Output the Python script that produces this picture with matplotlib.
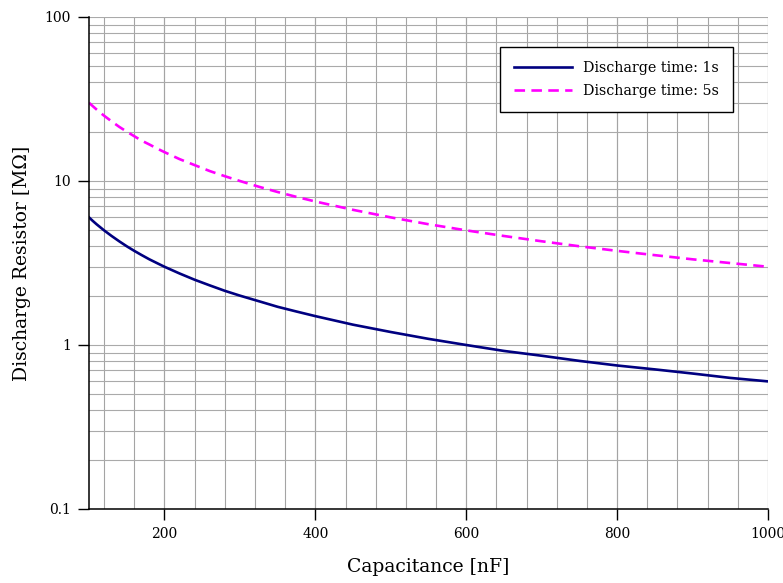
import matplotlib
matplotlib.use("Agg")
import matplotlib.pyplot as plt
from matplotlib.ticker import FixedLocator, NullFormatter

plt.rcParams['font.family'] = ['DejaVu Serif']

# capacitance [nF] and discharge resistor [MOhm] for each discharge time
capacitance = [100, 105, 110, 115, 120, 130, 140, 150, 160, 170, 180, 190,
               200, 220, 240, 260, 280, 300, 325, 350, 375, 400, 450, 500,
               550, 600, 650, 700, 750, 800, 850, 900, 950, 1000]
r_1s = [6.0, 5.71, 5.45, 5.22, 5.0, 4.62, 4.29, 4.0, 3.75, 3.53, 3.33, 3.16,
        3.0, 2.73, 2.5, 2.31, 2.14, 2.0, 1.85, 1.71, 1.6, 1.5, 1.33, 1.2,
        1.09, 1.0, 0.92, 0.86, 0.8, 0.75, 0.71, 0.67, 0.63, 0.6]
r_5s = [30.0, 28.6, 27.3, 26.1, 25.0, 23.1, 21.4, 20.0, 18.75, 17.6, 16.7, 15.8,
        15.0, 13.6, 12.5, 11.5, 10.7, 10.0, 9.23, 8.57, 8.0, 7.5, 6.67, 6.0,
        5.45, 5.0, 4.62, 4.29, 4.0, 3.75, 3.53, 3.33, 3.16, 3.0]
labels = ["Discharge time: 1s", "Discharge time: 5s"]
x_ticks = [200, 400, 600, 800, 1000]
y_ticks = [0.1, 1, 10, 100]
y_ticklabels = ["0.1", "1", "10", "100"]

fig = plt.figure(figsize=(7.83, 5.83), dpi=100)
ax = fig.add_axes([89/783, 1 - 509/583, (768-89)/783, (509-17)/583])

ax.set_yscale("log")
ax.set_xlim(100, 1000)
ax.set_ylim(0.1, 100)

# grid: x every 40 nF, y at 1..9 per decade
x_grid = list(range(120, 1001, 40)) + x_ticks
y_grid = [m * 10**e for e in range(-1, 2) for m in range(1, 10)] + [100]
for xv in x_grid:
    ax.axvline(xv, color="#a4a4a4", lw=0.8, zorder=0)
for yv in y_grid:
    ax.axhline(yv, color="#aaaaaa", lw=0.8, zorder=0)

ax.plot(capacitance, r_1s, color="#000080", lw=1.9, label=labels[0])
ax.plot(capacitance, r_5s, color="#ff00ff", lw=1.9, dashes=(4, 2.4), label=labels[1])

ax.xaxis.set_major_locator(FixedLocator(x_ticks))
ax.yaxis.set_major_locator(FixedLocator(y_ticks))
ax.yaxis.set_minor_locator(FixedLocator([]))
ax.yaxis.set_minor_formatter(NullFormatter())
ax.set_yticklabels(y_ticklabels)
ax.tick_params(direction="out", length=8, width=1, labelsize=10, pad=5)

for side in ["top", "right"]:
    ax.spines[side].set_visible(False)
for side in ["left", "bottom"]:
    ax.spines[side].set_linewidth(1.1)

ax.set_xlabel("Capacitance [nF]", fontsize=13.5, labelpad=12)
ax.set_ylabel("Discharge Resistor [MΩ]", fontsize=13.5, labelpad=10)

leg = ax.legend(loc="upper right", bbox_to_anchor=(740/783, 1 - 40/583),
                bbox_transform=fig.transFigure, fontsize=10.3, fancybox=False,
                framealpha=1, edgecolor="black", handlelength=4.05,
                borderpad=0.98, labelspacing=0.6, handletextpad=0.8)
leg.get_frame().set_linewidth(1.0)

fig.savefig("out.png", dpi=100)
